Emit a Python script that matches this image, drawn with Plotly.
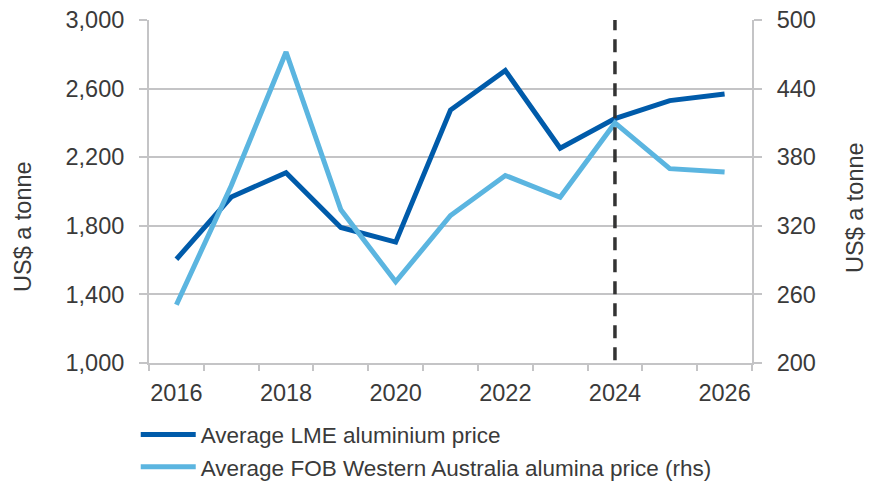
import plotly.graph_objects as go

# Annual series (calendar years)
years = [2016, 2017, 2018, 2019, 2020, 2021, 2022, 2023, 2024, 2025, 2026]
lme_aluminium = [1605, 1968, 2110, 1790, 1705, 2475, 2705, 2252, 2425, 2530, 2568]   # US$/t, left axis
fob_alumina = [251, 355, 472, 334, 271, 329, 364, 345, 410, 370, 367]                 # US$/t, right axis

forecast_start = 2024
x_labels = [2016, 2018, 2020, 2022, 2024, 2026]
left_ticks = [1000, 1400, 1800, 2200, 2600, 3000]
right_ticks = [200, 260, 320, 380, 440, 500]

DARK = "#005BAA"
LIGHT = "#5BB5E0"
GRID = "#C4C4C6"
TEXT = "#3A3A3A"
FONT = "Liberation Sans, Arial, sans-serif"
FS = 23.5

fig = go.Figure()
fig.add_trace(go.Scatter(
    x=years, y=lme_aluminium, mode="lines", name="Average LME aluminium price",
    line=dict(color=DARK, width=5), yaxis="y"))
fig.add_trace(go.Scatter(
    x=years, y=fob_alumina, mode="lines",
    name="Average FOB Western Australia alumina price (rhs)",
    line=dict(color=LIGHT, width=5), yaxis="y2"))

# forecast divider
fig.add_shape(type="line", xref="x", yref="paper", x0=forecast_start, x1=forecast_start,
              y0=0.008, y1=1, line=dict(color="#333333", width=3.5, dash="13px,9px"))

fig.update_layout(
    width=870, height=483,
    margin=dict(l=149, r=118, t=20, b=120, autoexpand=False),
    paper_bgcolor="white", plot_bgcolor="white",
    font=dict(family=FONT, size=FS, color=TEXT),
    showlegend=True,
    legend=dict(x=-0.022, y=-0.147, xanchor="left", yanchor="top",
                orientation="v", font=dict(size=22.5, color=TEXT),
                itemwidth=55, tracegroupgap=0, bgcolor="rgba(0,0,0,0)"),
    xaxis=dict(
        range=[2015.5, 2026.5], tickmode="array", tickvals=x_labels,
        ticktext=[str(v) for v in x_labels], ticks="", ticklen=0,
        ticklabelstandoff=8,
        showgrid=False, zeroline=False,
        showline=True, linecolor=GRID, linewidth=2,
        minor=dict(tickmode="array",
                   tickvals=[y - 0.5 for y in years] + [years[-1] + 0.5],
                   ticks="outside", ticklen=6, tickcolor=GRID, tickwidth=2,
                   showgrid=False),
        tickfont=dict(size=FS, color=TEXT)),
    yaxis=dict(
        range=[1000, 3000], tickmode="array", tickvals=left_ticks,
        ticktext=[f"{v:,}" for v in left_ticks],
        ticks="outside", ticklen=8, tickcolor=GRID, tickwidth=2,
        ticklabelstandoff=10,
        showgrid=True, gridcolor=GRID, gridwidth=2, zeroline=False,
        showline=True, linecolor=GRID, linewidth=2,
        tickfont=dict(size=FS, color=TEXT)),
    yaxis2=dict(
        range=[200, 500], tickmode="array", tickvals=right_ticks,
        ticks="outside", ticklen=8, tickcolor=GRID, tickwidth=2,
        ticklabelstandoff=10,
        overlaying="y", side="right", anchor="x",
        showgrid=False, zeroline=False,
        showline=True, linecolor=GRID, linewidth=2,
        tickfont=dict(size=FS, color=TEXT)),
    annotations=[
        dict(text="US$ a tonne", textangle=-90, xref="paper", yref="paper",
             x=(23 - 149) / 603, y=(363 - 227) / 343, xanchor="center", yanchor="middle",
             showarrow=False, font=dict(size=FS, color=TEXT)),
        dict(text="US$ a tonne", textangle=-90, xref="paper", yref="paper",
             x=(855 - 149) / 603, y=(363 - 208) / 343, xanchor="center", yanchor="middle",
             showarrow=False, font=dict(size=FS, color=TEXT)),
    ],
)

fig.write_html("out.html")
